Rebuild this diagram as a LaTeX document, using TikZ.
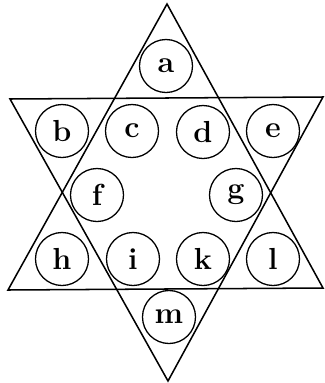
\documentclass[tikz,border=0pt]{standalone}
\begin{document}
\begin{tikzpicture}[x=0.03cm,y=-0.03cm,
  disc/.style={draw,circle,line width=1.1pt,minimum size=1.59cm,inner sep=0pt,
    font=\fontsize{26}{30}\selectfont\bfseries}]
  \useasboundingbox (0,0) rectangle (324,383);
  % the two triangles
  \draw[line width=1.3pt] (167,4)--(323,288)--(8,290)--cycle;
  \draw[line width=1.3pt] (10,99)--(323,97)--(168,381)--cycle;
  % the circles
  \node[disc] (a) at (166,66) {a};
  \node[disc] (b) at (62,131) {b};
  \node[disc] (c) at (132,131) {c};
  \node[disc] (d) at (203,132) {d};
  \node[disc] (e) at (273,131) {e};
  \node[disc] (f) at (97,195) {f};
  \node[disc] (g) at (236,195) {g};
  \node[disc] (h) at (62,259) {h};
  \node[disc] (i) at (133,259) {i};
  \node[disc] (k) at (203,259) {k};
  \node[disc] (l) at (273,259) {l};
  \node[disc] (m) at (169,317) {m};
\end{tikzpicture}
\end{document}
